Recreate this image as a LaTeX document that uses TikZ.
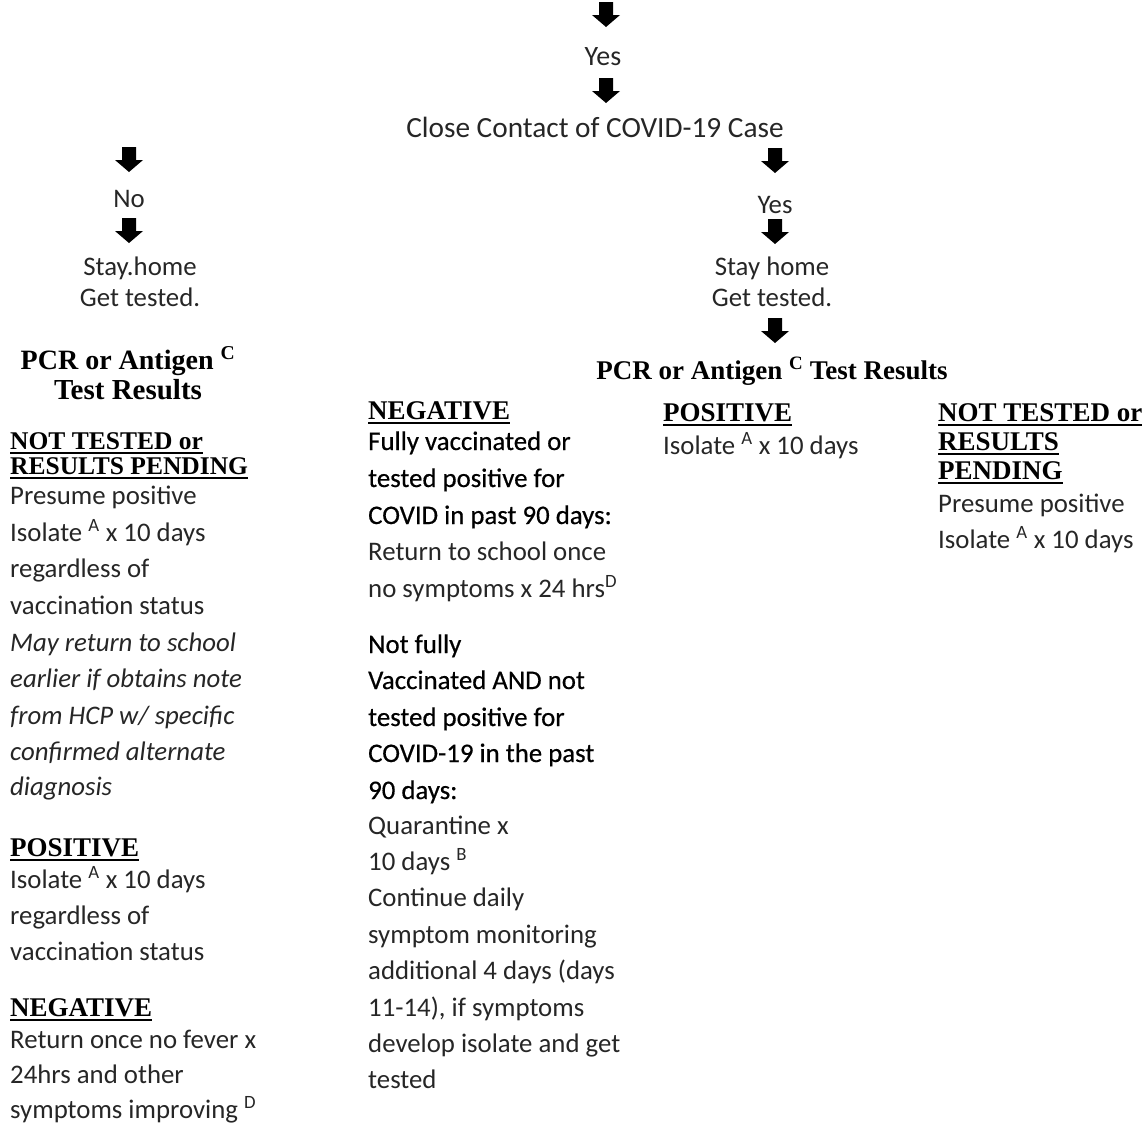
\documentclass[tikz,border=0pt]{standalone}
\usepackage{fontspec}
\setmainfont{Carlito}
\newfontfamily\tnr{Liberation Serif}
\newfontfamily\semib[FakeBold=0.5]{Carlito}
\newcommand\ulx[1]{\setbox0\hbox{#1}\rlap{\rule[-4.6pt]{\wd0}{1.9pt}}\box0}
\begin{document}
\begin{tikzpicture}[x=1pt,y=-1pt,
 body/.style={anchor=base west, inner sep=0pt, font=\fontsize{26.8}{30}\selectfont, text=black!85},
 bodyc/.style={body, anchor=base},
 bodyi/.style={body, font=\fontsize{26.8}{30}\selectfont\itshape},
 semi/.style={body, font=\fontsize{26.8}{30}\selectfont\semib, text=black},
 head/.style={anchor=base west, inner sep=0pt, font=\fontsize{27}{30}\selectfont\tnr\bfseries},
 headc/.style={head, anchor=base},
 barrow/.pic={\fill[black] (-7,0) -- (7,0) -- (7,13) -- (14,13) -- (0,25) -- (-14,13) -- (-7,13) -- cycle;}]
\useasboundingbox (0,0) rectangle (1146,1127);
% top chain
\pic (a1) at (606,2) {barrow};
\node[bodyc, font=\fontsize{28}{30}\selectfont] (yes1) at (603,65) {Yes};
\pic (a2) at (606,78) {barrow};
\node[bodyc, font=\fontsize{29.3}{30}\selectfont] (close) at (595,137) {Close Contact of COVID-19 Case};
% right chain
\pic (a3) at (775,148) {barrow};
\node[bodyc] (yes2) at (775,213) {Yes};
\pic (a4) at (775,219) {barrow};
\node[bodyc] (sh2) at (772,275) {Stay home};
\node[bodyc] (gt2) at (772,306) {Get tested.};
\pic (a5) at (775,318) {barrow};
\node[headc] (pcr2) at (772,379) {PCR or Antigen \textsuperscript{C} Test Results};
% left chain
\pic (a6) at (129,147) {barrow};
\node[bodyc] (no) at (129,207) {No};
\pic (a7) at (129,218) {barrow};
\node[bodyc] (sh1) at (140,275) {Stay.home};
\node[bodyc] (gt1) at (140,306) {Get tested.};
\node[headc, font=\fontsize{28}{30}\selectfont\tnr\bfseries] (pcr1a) at (128,369) {PCR or Antigen \textsuperscript{C}};
\node[headc, font=\fontsize{29}{30}\selectfont\tnr\bfseries] (pcr1b) at (128,399) {Test Results};
% left column
\node[head, font=\fontsize{25.5}{30}\selectfont\tnr\bfseries] (lnt1) at (10,449) {\ulx{NOT TESTED or}};
\node[head, font=\fontsize{25.5}{30}\selectfont\tnr\bfseries] (lnt2) at (10,474) {\ulx{RESULTS PENDING}};
\node[body] (l1) at (10,504) {Presume positive};
\node[body] (l2) at (10,541) {Isolate \textsuperscript{A} x 10 days};
\node[body] (l3) at (10,577) {regardless of};
\node[body] (l4) at (10,614) {vaccination status};
\node[bodyi] (l5) at (10,651) {May return to school};
\node[bodyi] (l6) at (10,687) {earlier if obtains note};
\node[bodyi] (l7) at (10,724) {from HCP w/ specific};
\node[bodyi] (l8) at (10,760) {confirmed alternate};
\node[bodyi] (l9) at (10,795) {diagnosis};
\node[head] (lpos) at (10,856) {\ulx{POSITIVE}};
\node[body] (lp1) at (10,888) {Isolate \textsuperscript{A} x 10 days};
\node[body] (lp2) at (10,924) {regardless of};
\node[body] (lp3) at (10,960) {vaccination status};
\node[head] (lneg) at (10,1016) {\ulx{NEGATIVE}};
\node[body] (ln1) at (10,1048) {Return once no fever x};
\node[body] (ln2) at (10,1083) {24hrs and other};
\node[body] (ln3) at (10,1118) {symptoms improving \textsuperscript{D}};
% middle column
\node[head] (mneg) at (368,419) {\ulx{NEGATIVE}};
\node[semi] (m1) at (368,450) {Fully vaccinated or};
\node[semi] (m2) at (368,487) {tested positive for};
\node[semi] (m3) at (368,524) {COVID in past 90 days:};
\node[body] (m4) at (368,560) {Return to school once};
\node[body] (m5) at (368,597) {no symptoms x 24 hrs\textsuperscript{D}};
\node[semi] (m6) at (368,653) {Not fully};
\node[semi] (m7) at (368,689) {Vaccinated AND not};
\node[semi] (m8) at (368,726) {tested positive for};
\node[semi] (m9) at (368,762) {COVID-19 in the past};
\node[semi] (m10) at (368,799) {90 days:};
\node[body] (m11) at (368,834) {Quarantine x};
\node[body] (m12) at (368,870) {10 days \textsuperscript{B}};
\node[body] (m13) at (368,906) {Continue daily};
\node[body] (m14) at (368,943) {symptom monitoring};
\node[body] (m15) at (368,979) {additional 4 days (days};
\node[body] (m16) at (368,1016) {11-14), if symptoms};
\node[body] (m17) at (368,1052) {develop isolate and get};
\node[body] (m18) at (368,1088) {tested};
% positive column
\node[head] (ppos) at (663,421) {\ulx{POSITIVE}};
\node[body] (p1) at (663,454) {Isolate \textsuperscript{A} x 10 days};
% right column
\node[head] (rnt1) at (938,421) {\ulx{NOT TESTED or}};
\node[head] (rnt2) at (938,450) {\ulx{RESULTS}};
\node[head] (rnt3) at (938,479) {\ulx{PENDING}};
\node[body] (r1) at (938,512) {Presume positive};
\node[body] (r2) at (938,548) {Isolate \textsuperscript{A} x 10 days};
\end{tikzpicture}
\end{document}
